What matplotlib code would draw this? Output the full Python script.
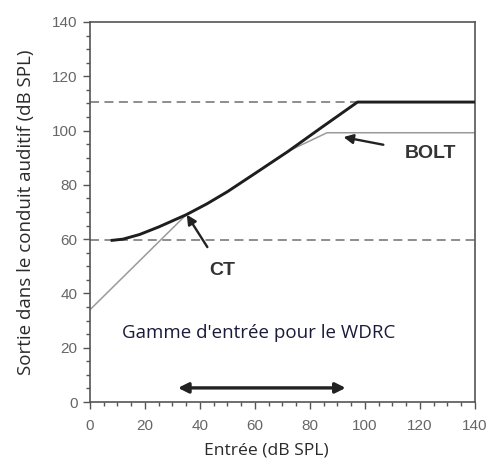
#!/usr/bin/env python3
"""WDRC input/output curve (CT / BOLT)."""

import matplotlib
matplotlib.use('Agg')
import matplotlib.pyplot as plt
from matplotlib.ticker import MultipleLocator

# --- data -------------------------------------------------------------
# thick line: WDRC hearing aid output
wdrc_in = [7.5, 12, 18, 25, 35, 42.5, 50, 60, 72, 84, 97.3, 140]
wdrc_out = [59.5, 60.0, 61.7, 64.5, 69.0, 73.0, 77.5, 84.2, 92.3, 101.0, 110.5, 110.5]

# thin line: linear gain + compression, lower limiting
lin_in = [0, 35, 42.5, 50, 60, 72, 75.4, 86.2, 140]
lin_out = [34, 69.0, 73.0, 77.5, 84.2, 92.3, 94.0, 99.2, 99.2]

# dashed reference levels
ref_levels = [110.5, 59.7]

xticks = [0, 20, 40, 60, 80, 100, 120, 140]
yticks = [0, 20, 40, 60, 80, 100, 120, 140]

wdrc_range = (32, 93)

label_font = ['Open Sans', 'DejaVu Sans']
tick_font = ['Liberation Sans', 'DejaVu Sans']

fig = plt.figure(figsize=(4.91, 4.66), dpi=100)
ax = fig.add_axes([0.1833, 0.1373, 0.784, 0.8155])

ax.plot(lin_in, lin_out, color='#9a9a9a', linewidth=1.1, zorder=2)
ax.plot(wdrc_in, wdrc_out, color='#1e1e1e', linewidth=2.1, zorder=3,
        solid_capstyle='butt')
ax.axhline(ref_levels[0], xmin=0, xmax=97.3 / 140, color='#858585',
           linewidth=1.3, linestyle=(0, (5, 3)), zorder=1)
ax.axhline(ref_levels[1], color='#858585', linewidth=1.3,
           linestyle=(0, (5, 3)), zorder=1)

ax.set_xlim(0, 140)
ax.set_ylim(0, 140)
ax.set_xticks(xticks)
ax.set_yticks(yticks)
ax.xaxis.set_minor_locator(MultipleLocator(5))
ax.yaxis.set_minor_locator(MultipleLocator(5))
ax.tick_params(which='major', direction='out', length=5, width=1,
               color='#555555', labelcolor='#666666', labelsize=11)
ax.tick_params(axis='x', which='major', pad=7)
ax.tick_params(axis='y', which='major', pad=4)
ax.tick_params(which='minor', direction='out', length=3, width=1,
               color='#555555')
for lab in ax.get_xticklabels() + ax.get_yticklabels():
    lab.set_family(tick_font)
for sp in ax.spines.values():
    sp.set_color('#555555')
    sp.set_linewidth(1.2)

ax.set_xlabel('Entrée (dB SPL)', fontsize=12.6, family=label_font,
              color='#2a2a2a', labelpad=7, x=0.457)
ax.set_ylabel('Sortie dans le conduit auditif (dB SPL)', fontsize=13.5,
              family=label_font, color='#2a2a2a', labelpad=12)

# annotations
ax.annotate('CT', xy=(35.2, 69.0), xytext=(48, 48.6), ha='center',
            va='center', fontsize=14, fontweight='bold', color='#333333',
            family=tick_font,
            arrowprops=dict(arrowstyle='-|>', color='#222222', lw=1.7,
                            mutation_scale=14, shrinkA=10, shrinkB=0))
ax.annotate('BOLT', xy=(92.2, 97.6), xytext=(124, 91.4), ha='center',
            va='center', fontsize=14, fontweight='bold', color='#333333',
            family=tick_font,
            arrowprops=dict(arrowstyle='-|>', color='#222222', lw=1.7,
                            mutation_scale=14, shrinkA=14, shrinkB=0))

ax.text(11.7, 25.4, "Gamme d'entrée pour le WDRC", ha='left', va='center',
        fontsize=13.5, family=label_font, color='#1a1a3a')
ax.annotate('', xy=(wdrc_range[0], 5.2), xytext=(wdrc_range[1], 5.2),
            arrowprops=dict(arrowstyle='<|-|>', color='#222222', lw=2.4,
                            mutation_scale=15, shrinkA=0, shrinkB=0))

fig.savefig('out.png', dpi=100)
